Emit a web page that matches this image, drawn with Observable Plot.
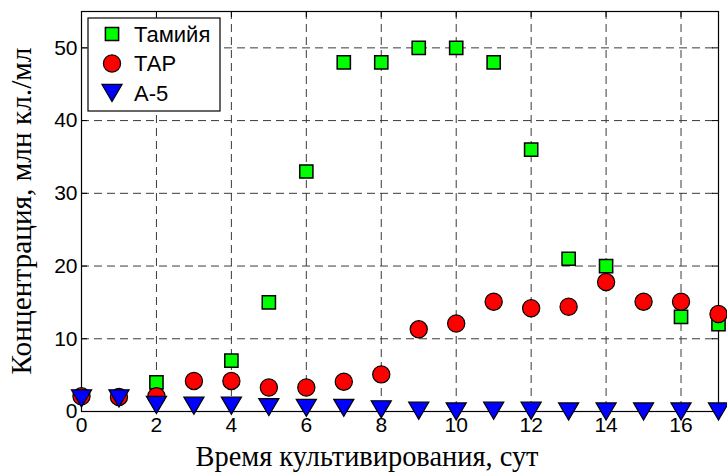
<!DOCTYPE html>
<html>
<head>
<meta charset="utf-8">
<script src="https://cdn.jsdelivr.net/npm/d3@7"></script>
<script src="https://cdn.jsdelivr.net/npm/@observablehq/plot@0.6"></script>
<style>
  body { margin: 0; background: #fff; }
  #chart svg { display: block; }
</style>
</head>
<body>
<div id="chart"></div>
<script>
// Cell concentration (million cells/ml) by day of cultivation
const days   = [0, 1, 2, 3, 4, 5, 6, 7, 8, 9, 10, 11, 12, 13, 14, 15, 16, 17];
const tamiya = [null, null, 4, null, 7, 15, 33, 48, 48, 50, 50, 48, 36, 21, 20, null, 13, 12];
const tap    = [2.1, 2.0, 2.1, 4.2, 4.2, 3.3, 3.3, 4.1, 5.1, 11.3, 12.1, 15.1, 14.2, 14.4, 17.8, 15.1, 15.1, 13.4];
const a5     = [1.8, 1.8, 0.9, 0.8, 0.8, 0.6, 0.5, 0.5, 0.3, 0.1, 0, 0.1, 0.1, 0, 0, 0, 0, 0];

const seriesNames = ["Тамийя", "ТАР", "А-5"];
const xTicks = [0, 2, 4, 6, 8, 10, 12, 14, 16];
const yTicks = [0, 10, 20, 30, 40, 50];
const xLabel = "Время культивирования, сут";
const yLabel = "Концентрация, млн кл./мл";

// MATLAB-like marker shapes; r is the half-size
const squareSym = {
  draw(ctx, size) {
    const r = Math.sqrt(size / Math.PI);
    ctx.rect(-r, -r, 2 * r, 2 * r);
  }
};
const triangleDownSym = {
  draw(ctx, size) {
    const r = Math.sqrt(size / Math.PI);
    const hw = r * 1.12, hh = r * 0.95;
    ctx.moveTo(-hw, -hh);
    ctx.lineTo(hw, -hh);
    ctx.lineTo(0, hh);
    ctx.closePath();
  }
};

const series = [
  {name: seriesNames[0], values: tamiya, symbol: squareSym,       r: 6.6, fill: "#00ff00", strokeWidth: 1.5},
  {name: seriesNames[1], values: tap,    symbol: d3.symbolCircle, r: 8.6, fill: "#ff0000", strokeWidth: 1.2},
  {name: seriesNames[2], values: a5,     symbol: triangleDownSym, r: 9,   fill: "#0000ff", strokeWidth: 1.2}
];

const rows = s => days.map((d, i) => ({day: d, value: s.values[i]})).filter(d => d.value != null);

const W = 727, H = 475;
const M = {left: 81, right: 9, top: 11, bottom: 64};
const plotW = W - M.left - M.right, plotH = H - M.top - M.bottom;
const tickLen = 6;
const gridStyle = {stroke: "#3a3a3a", strokeWidth: 1, strokeDasharray: "8,5"};
const serif = "'Liberation Serif', 'Times New Roman', serif";
const sans = "'Liberation Sans', Arial, sans-serif";

const chart = Plot.plot({
  width: W,
  height: H,
  marginLeft: M.left,
  marginRight: M.right,
  marginTop: M.top,
  marginBottom: M.bottom,
  style: {fontFamily: sans, fontSize: "21px", color: "black", background: "white"},
  x: {domain: [0, 17], ticks: xTicks, tickSize: 0, tickPadding: 6, label: null},
  y: {domain: [0, 55], ticks: yTicks, tickSize: 0, tickPadding: 4, label: null},
  marks: [
    // dashed grid at the major ticks
    Plot.ruleX(xTicks.filter(d => d > 0), {x: d => d, ...gridStyle}),
    Plot.ruleY(yTicks.filter(d => d > 0), {y: d => d, ...gridStyle}),
    // inward tick marks on all four sides
    Plot.tickX(xTicks, {x: d => d, insetTop: plotH - tickLen, stroke: "black"}),
    Plot.tickX(xTicks, {x: d => d, insetBottom: plotH - tickLen, stroke: "black"}),
    Plot.tickY(yTicks, {y: d => d, insetRight: plotW - tickLen, stroke: "black"}),
    Plot.tickY(yTicks, {y: d => d, insetLeft: plotW - tickLen, stroke: "black"}),
    Plot.frame({stroke: "black", strokeWidth: 1.2}),
    // data markers
    ...series.map(s => Plot.dot(rows(s), {
      x: "day", y: "value", symbol: s.symbol, r: s.r,
      fill: s.fill, stroke: "black", strokeWidth: s.strokeWidth
    }))
  ]
});

const svg = d3.select(chart);

// Axis titles
svg.append("text")
  .attr("x", 367).attr("y", 466)
  .attr("text-anchor", "middle")
  .attr("font-family", serif).attr("font-size", 29)
  .attr("textLength", 343).attr("lengthAdjust", "spacingAndGlyphs")
  .attr("fill", "black")
  .text(xLabel);
svg.append("text")
  .attr("transform", "translate(31,211) rotate(-90)")
  .attr("text-anchor", "middle")
  .attr("font-family", serif).attr("font-size", 29)
  .attr("textLength", 327).attr("lengthAdjust", "spacingAndGlyphs")
  .attr("fill", "black")
  .text(yLabel);

// Legend box in the upper-left corner of the axes
const lg = svg.append("g").attr("transform", "translate(88,18)");
lg.append("rect")
  .attr("width", 132).attr("height", 93)
  .attr("fill", "white").attr("stroke", "black").attr("stroke-width", 1.2);
series.forEach((s, i) => {
  const cy = 16 + i * 29.5;
  lg.append("path")
    .attr("transform", `translate(24,${cy})`)
    .attr("d", d3.symbol().type(s.symbol).size(Math.PI * s.r * s.r)())
    .attr("fill", s.fill).attr("stroke", "black").attr("stroke-width", s.strokeWidth);
  lg.append("text")
    .attr("x", 46).attr("y", cy).attr("dy", "0.36em")
    .attr("text-anchor", "start")
    .attr("font-family", sans)
    .attr("font-size", 22)
    .attr("fill", "black")
    .text(s.name);
});

document.getElementById("chart").appendChild(chart);
</script>
</body>
</html>
